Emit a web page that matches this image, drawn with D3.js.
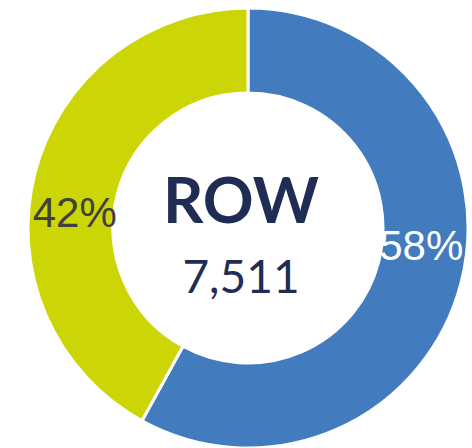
<!DOCTYPE html>
<head>
    <meta charset="utf-8">
    <script src="https://d3js.org/d3.v7.min.js"></script>
    <style>
        body { margin:0; background:#fff; }
        svg { display:block; }
    </style>
</head>
<body>
<div id="chart"></div>
<script>

    // ******************** Data ************************
    var categories = ["Blue", "Yellow"];
    var values = [58, 42];
    var colors = ["#427CBF", "#CCD606"];
    var labelColors = ["#ffffff", "#404040"];
    var centerTitle = "ROW";
    var centerValue = 7511;

    var width = 472, height = 448;
    var cx = 248, cy = 228;
    var outerR = 220, innerR = 135;

    var svg = d3.select("#chart").append("svg")
        .attr("width", width)
        .attr("height", height);

    var g = svg.append("g")
        .attr("transform", "translate(" + cx + "," + cy + ")");

    var pie = d3.pie().sort(null).value(function (d) { return d; });
    var arcs = pie(values);

    var arc = d3.arc().innerRadius(innerR).outerRadius(outerR);

    g.selectAll("path")
        .data(arcs)
        .enter()
        .append("path")
        .attr("d", arc)
        .attr("fill", function (d, i) { return colors[i]; })
        .attr("stroke", "#fff")
        .attr("stroke-width", 3);

    // labels sit a bit before mid angle, like excel does
    var labelR = 174;
    var shift = 9 * Math.PI / 180;
    g.selectAll("text.lbl")
        .data(arcs)
        .enter()
        .append("text")
        .attr("class", "lbl")
        .attr("x", function (d) { return labelR * Math.sin((d.startAngle + d.endAngle) / 2 - shift); })
        .attr("y", function (d) { return -labelR * Math.cos((d.startAngle + d.endAngle) / 2 - shift); })
        .attr("dy", "0.36em")
        .attr("text-anchor", "middle")
        .style("font-family", "'Liberation Sans', Arial, sans-serif")
        .style("font-size", "42px")
        .style("fill", function (d, i) { return labelColors[i]; })
        .text(function (d) { return d.data + "%"; });

    // center text block is a little left of the ring center
    var center = g.append("g").attr("transform", "translate(-7,0)");

    center.append("text")
        .attr("y", -5)
        .attr("text-anchor", "middle")
        .style("font-family", "Lato, 'Open Sans', sans-serif")
        .style("font-weight", "bold")
        .style("font-size", "63px")
        .style("fill", "#1F2D54")
        .text(centerTitle);

    center.append("text")
        .attr("y", 65)
        .attr("text-anchor", "middle")
        .style("font-family", "Lato, 'Open Sans', sans-serif")
        .style("font-size", "46px")
        .style("fill", "#1F2D54")
        .text(d3.format(",")(centerValue));

</script>
</body>
